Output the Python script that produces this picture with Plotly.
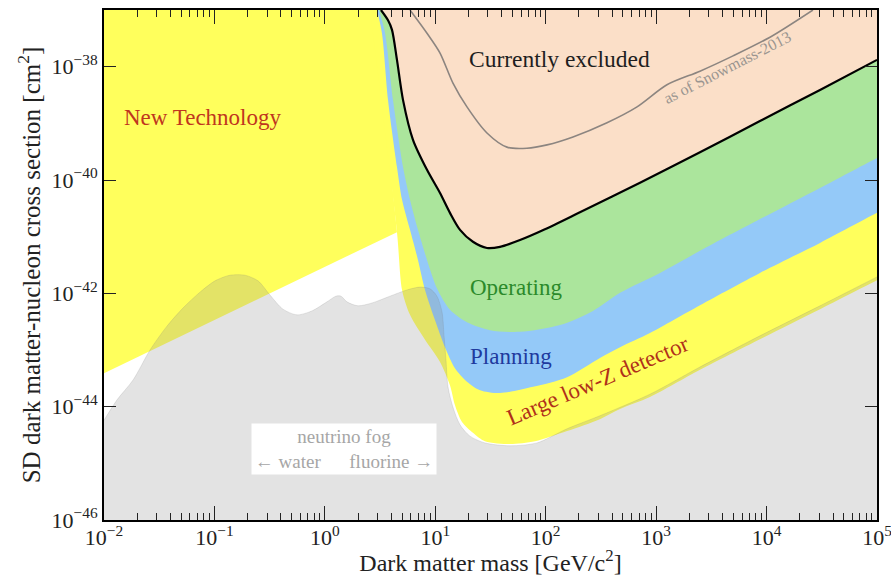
import numpy as np
import plotly.graph_objects as go

# ---- boundaries, stored as log10(mass / GeV) and log10(sigma / cm^2) ----
newtech_logm = [-2.0, 0.454, 0.653, -2.0]
newtech_logsig = [-37.0, -37.0, -40.92, -43.41]

lowz_logm = [0.409, 0.653, 0.699, 0.771, 0.907, 1.043, 1.133, 1.178, 1.242, 1.341, 1.450,
             1.677, 1.903, 2.193, 2.491, 2.673, 2.944, 3.397, 3.940, 4.484, 5.0]
lowz_logsig = [-37.0, -40.92, -41.94, -42.38, -42.82, -43.21, -43.62, -43.97, -44.27, -44.46, -44.61,
               -44.66, -44.61, -44.43, -44.22, -44.04, -43.83, -43.35, -42.81, -42.28, -41.77]

plan_logm = [0.472, 0.517, 0.572, 0.653, 0.699, 0.771, 0.843, 0.907, 0.997, 1.088, 1.178, 1.287,
             1.405, 1.586, 1.885, 2.193, 2.491, 2.673, 2.944, 3.397, 3.940, 4.484, 5.0]
plan_logsig = [-37.0, -37.41, -38.59, -39.77, -40.35, -40.88, -41.41, -41.94, -42.47, -42.95, -43.32, -43.56,
               -43.71, -43.76, -43.65, -43.48, -43.14, -42.95, -42.70, -42.21, -41.64, -41.11, -40.58]

oper_logm = [0.490, 0.545, 0.617, 0.708, 0.771, 0.843, 0.925, 1.015, 1.133, 1.287, 1.495, 1.767,
             2.129, 2.428, 2.673, 3.035, 3.397, 3.940, 4.484, 5.0]
oper_logsig = [-37.0, -37.41, -38.59, -39.77, -40.35, -40.88, -41.41, -41.91, -42.29, -42.51, -42.65, -42.68,
               -42.56, -42.31, -41.99, -41.64, -41.25, -40.69, -40.14, -39.61]

excl_logm = [0.508, 0.572, 0.608, 0.653, 0.708, 0.798, 0.925, 1.043, 1.133, 1.224, 1.341, 1.468,
             1.586, 1.767, 1.993, 2.310, 2.854, 3.397, 3.940, 4.484, 5.0]
excl_logsig = [-37.0, -37.18, -37.35, -37.88, -38.59, -39.29, -39.82, -40.23, -40.58, -40.88, -41.09, -41.20,
               -41.18, -41.06, -40.87, -40.57, -40.05, -39.51, -38.96, -38.41, -37.88]

snow_logm = [0.771, 0.925, 1.043, 1.160, 1.287, 1.468, 1.649, 1.830, 2.012, 2.247, 2.555, 2.827,
             3.098, 3.397, 3.696, 4.031, 4.420]
snow_logsig = [-37.0, -37.41, -37.76, -38.29, -38.71, -39.17, -39.42, -39.44, -39.38, -39.24, -38.99, -38.71,
               -38.32, -38.08, -37.81, -37.48, -37.0]

fog_logm = [-2.0, -1.882, -1.737, -1.583, -1.430, -1.285, -1.131, -0.995, -0.859, -0.723, -0.605, -0.497,
            -0.379, -0.252, -0.116, 0.019, 0.101, 0.146, 0.200, 0.300, 0.427, 0.590, 0.744, 0.862,
            0.952, 1.015, 1.061, 1.079, 1.097, 1.115, 1.160, 1.224, 1.314, 1.450, 1.677, 1.921,
            2.193, 2.491, 2.944, 3.397, 3.940, 4.484, 5.0]
fog_logsig = [-44.24, -43.88, -43.53, -43.0, -42.58, -42.26, -41.98, -41.78, -41.68, -41.68, -41.78, -42.03,
              -42.28, -42.38, -42.31, -42.15, -42.05, -42.05, -42.15, -42.22, -42.17, -42.05, -41.94, -41.89,
              -41.92, -42.05, -42.33, -42.74, -43.18, -43.65, -44.01, -44.32, -44.52, -44.64, -44.69, -44.64,
              -44.39, -44.16, -43.78, -43.30, -42.75, -42.22, -41.71]

x_tickvals = [1e-2, 1e-1, 1e0, 1e1, 1e2, 1e3, 1e4, 1e5]
x_ticktext = ["10<sup>−2</sup>", "10<sup>−1</sup>", "10<sup>0</sup>", "10<sup>1</sup>",
              "10<sup>2</sup>", "10<sup>3</sup>", "10<sup>4</sup>", "10<sup>5</sup>"]
y_tickvals = [1e-46, 1e-44, 1e-42, 1e-40, 1e-38]
y_ticktext = ["10<sup>−46</sup>", "10<sup>−44</sup>", "10<sup>−42</sup>", "10<sup>−40</sup>", "10<sup>−38</sup>"]
x_minor = [k * 10.0 ** d for d in range(-2, 5) for k in range(2, 10)]

SERIF = "Liberation Serif, Times New Roman, serif"
YELLOW = "#ffff5c"
BLUE = "#94c9f8"
GREEN = "#abe59c"
PEACH = "#fbdfc8"

fig = go.Figure()


def pow10(v):
    return 10.0 ** np.asarray(v, dtype=float)


def add_upper_region(logm, logsig, color):
    """Fill everything above a boundary curve, closing through the top-right corner."""
    xs = list(logm) + [5.4, 5.4, logm[0]]
    ys = list(logsig) + [logsig[-1] + 0.4, -36.4, -36.4]
    fig.add_trace(go.Scatter(
        x=pow10(xs), y=pow10(ys), mode="lines", fill="toself", fillcolor=color,
        line=dict(width=0, shape="spline", smoothing=0.8, color=color),
        hoverinfo="skip", showlegend=False))


# new-technology reach (straight-edged region)
fig.add_trace(go.Scatter(
    x=pow10(newtech_logm), y=pow10(newtech_logsig), mode="lines", fill="toself",
    fillcolor=YELLOW, line=dict(width=0, color=YELLOW), hoverinfo="skip", showlegend=False))

add_upper_region(lowz_logm, lowz_logsig, YELLOW)
add_upper_region(plan_logm, plan_logsig, BLUE)
add_upper_region(oper_logm, oper_logsig, GREEN)
add_upper_region(excl_logm, excl_logsig, PEACH)

# current exclusion limit
fig.add_trace(go.Scatter(
    x=pow10(excl_logm), y=pow10(excl_logsig), mode="lines",
    line=dict(color="black", width=2.2, shape="spline", smoothing=0.8),
    hoverinfo="skip", showlegend=False))

# Snowmass-2013 limit
fig.add_trace(go.Scatter(
    x=pow10(snow_logm), y=pow10(snow_logsig), mode="lines",
    line=dict(color="#8c8580", width=1.6, shape="spline", smoothing=0.8),
    hoverinfo="skip", showlegend=False))

# neutrino fog (translucent, drawn over the bands)
fog_x = list(fog_logm) + [5.4, 5.4, -2.4, -2.4]
fog_y = list(fog_logsig) + [fog_logsig[-1] + 0.4, -46.5, -46.5, fog_logsig[0] - 0.3]
fig.add_trace(go.Scatter(
    x=pow10(fog_x), y=pow10(fog_y), mode="lines", fill="toself",
    fillcolor="rgba(140,140,140,0.24)",
    line=dict(width=1, color="rgba(120,120,120,0.18)", shape="spline", smoothing=0.8),
    hoverinfo="skip", showlegend=False))

annotations = [
    dict(x=-1.104, y=-38.89, text="New Technology", font=dict(size=23, color="#c0361e")),
    dict(x=2.129, y=-37.87, text="Currently excluded", font=dict(size=23.5, color="#1e1e1e")),
    dict(x=1.731, y=-41.89, text="Operating", font=dict(size=23, color="#2b8a2b")),
    dict(x=1.686, y=-43.12, text="Planning", font=dict(size=23, color="#1f3a9e")),
    dict(x=2.473, y=-43.53, text="Large low-Z detector", textangle=-23,
         font=dict(size=23, color="#b0301a")),
    dict(x=3.642, y=-38.01, text="as of Snowmass-2013", textangle=-27,
         font=dict(size=16, color="#9a9590")),
    dict(x=0.173, y=-44.75,
         text="neutrino fog<br>← water" + "\u00a0" * 6 + "fluorine →",
         font=dict(size=19, color="#a6a6a6"), bgcolor="white", width=182, height=48,
         align="center"),
]
for a in annotations:
    a.update(xref="x", yref="y", showarrow=False)
    a["font"]["family"] = SERIF

fig.update_layout(
    width=891, height=576,
    margin=dict(l=104, r=14, t=10, b=56, autoexpand=False),
    paper_bgcolor="white", plot_bgcolor="white", showlegend=False,
    font=dict(family=SERIF, size=22, color="#222222"),
    annotations=annotations,
)

axis_common = dict(
    type="log", showgrid=False, zeroline=False, showline=True, linewidth=2,
    linecolor="black", mirror="ticks", ticks="inside", tickwidth=1, tickcolor="#222222",
    tickfont=dict(family=SERIF, size=22, color="#222222"), automargin=False,
    ticklabeloverflow="allow",
)

fig.update_xaxes(
    range=[-2, 5], tickvals=x_tickvals, ticktext=x_ticktext, ticklen=14,
    ticklabelstandoff=-3,
    minor=dict(tickvals=x_minor, ticks="inside", ticklen=7, tickwidth=1,
               tickcolor="#222222", showgrid=False),
    title=dict(text="Dark matter mass [GeV/c<sup>2</sup>]", font=dict(family=SERIF, size=24),
               standoff=5),
    **axis_common,
)
fig.update_yaxes(
    range=[-46, -37], tickvals=y_tickvals, ticktext=y_ticktext, ticklen=12,
    title=dict(text="SD dark matter-nucleon cross section [cm<sup>2</sup>]",
               font=dict(family=SERIF, size=25), standoff=4),
    **axis_common,
)

fig.write_html("out.html")
